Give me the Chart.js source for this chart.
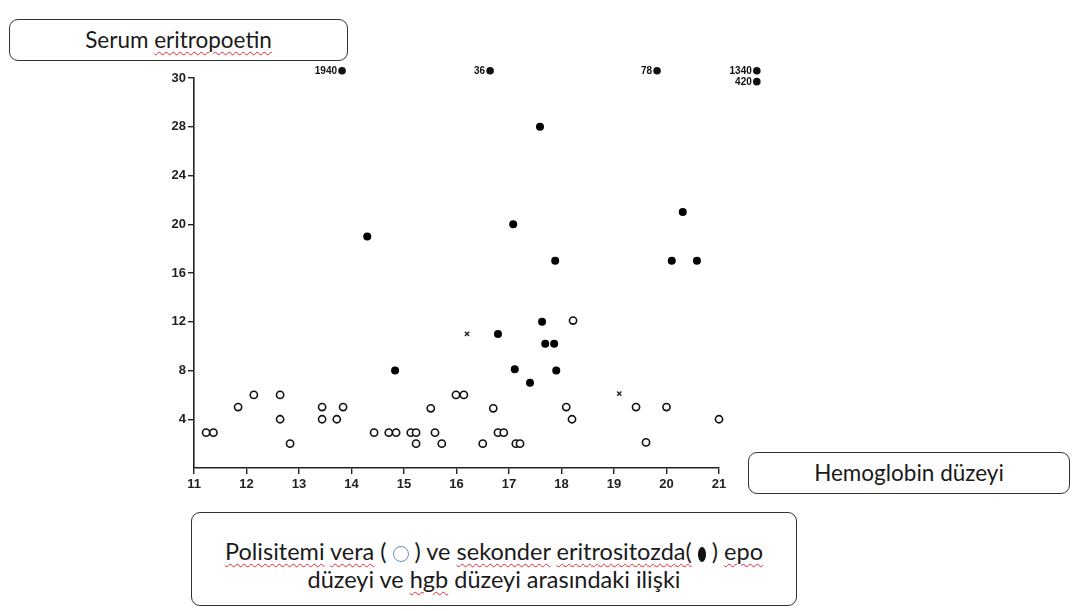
<!DOCTYPE html>
<html>
<head>
<meta charset="utf-8">
<script src="https://cdn.jsdelivr.net/npm/chart.js@4/dist/chart.umd.min.js"></script>
<style>
  html, body { margin: 0; padding: 0; background: #fff; }
  #wrap { position: relative; width: 1080px; height: 611px; }
  #epo-chart { position: absolute; left: 0; top: 0; }
  .box {
    position: absolute; box-sizing: border-box; background: #fff;
    border: 1.3px solid #333; border-radius: 9px;
    font-family: Lato, "Open Sans", sans-serif; color: #1a1a1a;
    font-size: 22.5px; text-align: center; white-space: nowrap;
  }
  .sp { text-decoration: underline wavy #e23; text-decoration-thickness: 1px; text-underline-offset: 3px; }
  .open-sym { display: inline-block; width: 14px; height: 14px; border: 1.3px solid #6a8fc0; border-radius: 50%; vertical-align: -2px; }
  .fill-sym { display: inline-block; width: 8px; height: 15px; background: #111; border-radius: 50%; vertical-align: -2px; }
</style>
</head>
<body>
<div id="wrap">
  <canvas id="epo-chart" width="1080" height="611"></canvas>
  <div class="box" style="left:9px; top:19px; width:339px; height:42px; line-height:40px;">Serum <span class="sp">eritropoetin</span></div>
  <div class="box" style="left:748px; top:452px; width:322px; height:42px; line-height:40px;">Hemoglobin düzeyi</div>
  <div class="box" style="left:191px; top:512px; width:606px; height:94px; padding-top:24px; line-height:28px; font-size:23.5px;">
    <span class="sp">Polisitemi</span> <span class="sp">vera</span> ( <span class="open-sym"></span> ) ve <span class="sp">sekonder</span> <span class="sp">eritrositozda(</span> <span class="fill-sym"></span> ) <span class="sp">epo</span><br>
    düzeyi ve <span class="sp">hgb</span> düzeyi arasındaki ilişki
  </div>
</div>
<script>
// polisitemi vera (open circles)
const pvHgb = [11.23, 11.37, 11.84, 12.14, 12.64, 12.64, 12.83, 13.44, 13.44, 13.72, 13.84,
    14.43, 14.71, 14.85, 15.13, 15.23, 15.23, 15.51, 15.59, 15.72, 15.99, 16.14,
    16.5, 16.7, 16.79, 16.9, 17.13, 17.21, 18.09, 18.2, 18.22, 19.42, 19.61, 20.0, 21.0];
const pvEpo = [2.9, 2.9, 5, 6, 6, 4, 2, 5, 4, 4, 5,
    2.9, 2.9, 2.9, 2.9, 2.9, 2, 4.9, 2.9, 2, 6, 6,
    2, 4.9, 2.9, 2.9, 2, 2, 5, 4, 12.1, 5, 2.1, 5, 4];

// sekonder eritrositoz (filled circles)
const seHgb = [14.3, 14.83, 16.79, 17.08, 17.11, 17.4, 17.59, 17.63, 17.69, 17.86, 17.88, 17.9, 20.1, 20.31, 20.58];
const seEpo = [19, 8, 11, 20, 8.1, 7, 28, 12, 10.2, 10.2, 17, 8, 17, 21, 17];

// x marks
const xmHgb = [16.2, 19.1];
const xmEpo = [11, 6.1];

// off-scale values drawn above the axis break
const offHgb = [13.82, 16.64, 19.82, 21.72, 21.72];
const offRow = [32.6, 32.6, 32.6, 32.6, 31.7];
const offLabels = ["1940", "36", "78", "1340", "420"];

const xTicks = [11, 12, 13, 14, 15, 16, 17, 18, 19, 20, 21];
const yTicks = [4, 8, 12, 16, 20, 24, 28, 32];
const yTickLabels = ["4", "8", "12", "16", "20", "24", "28", "30"];

const toPoints = (xs, ys) => xs.map((x, i) => ({ x: x, y: ys[i] }));

// points above the break sit outside the chart area, so Chart.js skips them;
// draw them here at the positions its scales computed
const offLabelPlugin = {
    id: "offLabels",
    afterDatasetsDraw(chart) {
        const ctx = chart.ctx;
        const meta = chart.getDatasetMeta(3);
        ctx.save();
        ctx.font = "bold 10px 'Liberation Sans', sans-serif";
        ctx.fillStyle = "#111";
        ctx.textAlign = "right";
        ctx.textBaseline = "middle";
        meta.data.forEach((el, i) => {
            ctx.beginPath();
            ctx.arc(el.x, el.y, 3.8, 0, Math.PI * 2);
            ctx.fill();
            ctx.fillText(offLabels[i], el.x - 5, el.y + 0.5);
        });
        ctx.restore();
    }
};

const tickFont = { family: "'Liberation Sans', sans-serif", size: 13, weight: "bold" };

const epoChart = new Chart(document.getElementById("epo-chart"), {
    type: "scatter",
    data: {
        datasets: [
            {
                label: "Polisitemi vera",
                data: toPoints(pvHgb, pvEpo),
                pointStyle: "circle",
                pointRadius: 3.6,
                borderWidth: 1.6,
                borderColor: "#111",
                backgroundColor: "#fff",
            },
            {
                label: "Sekonder eritrositoz",
                data: toPoints(seHgb, seEpo),
                pointStyle: "circle",
                pointRadius: 4,
                borderWidth: 0,
                backgroundColor: "#000",
            },
            {
                label: "x",
                data: toPoints(xmHgb, xmEpo),
                pointStyle: "crossRot",
                pointRadius: 3,
                borderWidth: 1.4,
                borderColor: "#222",
            },
            {
                label: "Skala dışı",
                data: toPoints(offHgb, offRow),
                pointRadius: 0,
            },
        ],
    },
    options: {
        responsive: false,
        animation: false,
        clip: false,
        layout: { padding: { left: 0, right: 361, top: 78, bottom: 0 } },
        plugins: { legend: { display: false }, tooltip: { enabled: false } },
        scales: {
            x: {
                type: "linear",
                min: 11,
                max: 21,
                afterFit(scale) { scale.height = 143; },
                afterBuildTicks(scale) { scale.ticks = xTicks.map(v => ({ value: v })); },
                border: { display: true, color: "#222", width: 1.6 },
                grid: { drawOnChartArea: false, drawTicks: true, tickLength: 6, color: "#222", lineWidth: 1.4 },
                ticks: { color: "#222", font: tickFont, padding: 3, maxRotation: 0 },
            },
            y: {
                type: "linear",
                min: 0,
                max: 32,
                afterFit(scale) { scale.width = 194; },
                afterBuildTicks(scale) { scale.ticks = yTicks.map(v => ({ value: v })); },
                border: { display: true, color: "#222", width: 1.6 },
                grid: { drawOnChartArea: false, drawTicks: true, tickLength: 6, color: "#222", lineWidth: 1.4 },
                ticks: {
                    color: "#222",
                    font: tickFont,
                    padding: 2,
                    callback: (v) => yTickLabels[yTicks.indexOf(v)],
                },
            },
        },
    },
    plugins: [offLabelPlugin],
});
</script>
</body>
</html>
